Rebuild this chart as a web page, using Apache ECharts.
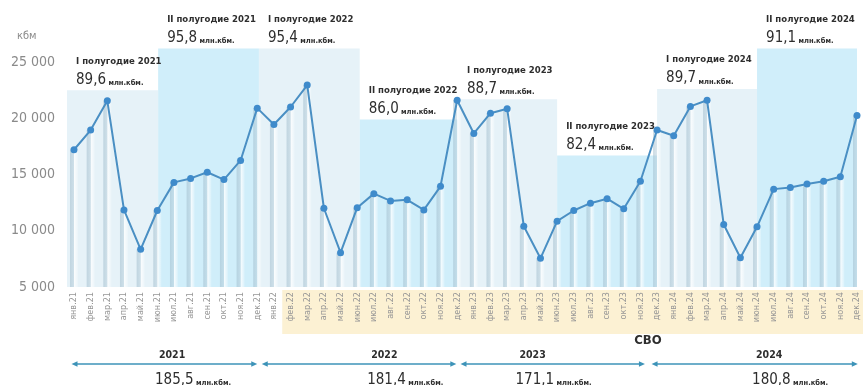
<!DOCTYPE html>
<html>
<head>
<meta charset="utf-8">
<script src="https://cdn.jsdelivr.net/npm/echarts@6/dist/echarts.min.js"></script>
<style>
  html, body { margin: 0; padding: 0; background: #ffffff; }
  #chart { width: 863px; height: 385px; }
</style>
</head>
<body>
<div id="chart"></div>
<script>
// Monthly timber volume, thousand cubic metres (кбм), Jan 2021 – Dec 2024
const monthNames = ['янв', 'фев', 'мар', 'апр', 'май', 'июн', 'июл', 'авг', 'сен', 'окт', 'ноя', 'дек'];
const yearSuffixes = ['21', '22', '23', '24'];
const months = [];
yearSuffixes.forEach(function (y) { monthNames.forEach(function (m) { months.push(m + '.' + y); }); });

const volumes2021 = [17200, 18950, 21550, 11850, 8350, 11800, 14300, 14650, 15200, 14550, 16250, 20900];
const volumes2022 = [19450, 21000, 22950, 12000, 8050, 12050, 13300, 12650, 12750, 11850, 13950, 21600];
const volumes2023 = [18650, 20450, 20850, 10400, 7550, 10850, 11800, 12450, 12850, 11950, 14400, 18950];
const volumes2024 = [18450, 21050, 21600, 10550, 7600, 10350, 13700, 13850, 14150, 14400, 14800, 20250];
const volumes = volumes2021.concat(volumes2022, volumes2023, volumes2024);

// Half-year blocks: caption, total, extent on the month index scale, top edge in кбм
const halfLabels = ['I полугодие 2021', 'II полугодие 2021', 'I полугодие 2022', 'II полугодие 2022',
                    'I полугодие 2023', 'II полугодие 2023', 'I полугодие 2024', 'II полугодие 2024'];
const halfTotals = ['89,6', '95,8', '95,4', '86,0', '88,7', '82,4', '89,7', '91,1'];
const halfStart = [-0.42, 5.05, 11.1, 17.15, 23.05, 29, 35, 41];
const halfEnd = [5.05, 11.1, 17.15, 23.05, 29, 35, 41, 47];
const halfTop = [22500, 26200, 26200, 19900, 21700, 16700, 22600, 26200];

// Calendar-year spans under the axis
const years = ['2021', '2022', '2023', '2024'];
const yearTotals = ['185,5', '181,4', '171,1', '180,8'];
const yearFrom = [-0.15, 11.27, 23.2, 34.67];
const yearTo = [11.0, 22.95, 34.27, 47.05];
const yearLabelAt = [4.86, 17.6, 26.5, 40.7];

// Period since February 2022
const svoLabel = 'СВО';
const svoFrom = 12.5;
const svoLabelAt = 34.45;

const yTicks = [5000, 10000, 15000, 20000, 25000];
const unitLabel = 'кбм';
const totalUnit = 'млн.кбм.';

const FONT = "'Liberation Sans Narrow', 'DejaVu Sans Condensed', 'Roboto', sans-serif";
const INK = '#2e2e2e';
const GREY = '#8a8a8a';
const LINE_BLUE = '#4a8fc3';
const ARROW_BLUE = '#3d93b8';
const bandColors = ['#e6f2f8', '#d0eefa'];

const chart = echarts.init(document.getElementById('chart'), null, { renderer: 'canvas' });

const points = volumes.map(function (v, i) { return [i, v]; });

const halfAreas = halfLabels.map(function (name, i) {
  return [
    {
      name: name,
      xAxis: halfStart[i],
      yAxis: halfTop[i],
      itemStyle: { color: bandColors[i % 2] },
      label: {
        formatter: '{t|' + name + '}\n{v|' + halfTotals[i] + '}{u| ' + totalUnit + '}'
      }
    },
    { xAxis: halfEnd[i], yAxis: 5000 }
  ];
});

function spaced(v) {
  return String(v).replace(/\B(?=(\d{3})+(?!\d))/g, ' ');
}

chart.setOption({
  animation: false,
  backgroundColor: '#ffffff',
  textStyle: { fontFamily: FONT },
  title: {
    text: unitLabel,
    left: 12,
    top: 26,
    textStyle: { fontFamily: FONT, fontSize: 11, fontWeight: 'normal', color: GREY }
  },
  grid: { left: 67, right: 6, top: 48.5, bottom: 98, containLabel: false },
  xAxis: {
    type: 'value',
    min: -0.42,
    max: 47,
    axisLine: { show: false },
    axisTick: { show: false },
    splitLine: { show: false },
    axisLabel: {
      customValues: months.map(function (m, i) { return i; }),
      formatter: function (v) { return months[v]; },
      rotate: 90,
      margin: 5,
      fontSize: 9,
      color: '#969696',
      fontFamily: FONT
    }
  },
  yAxis: {
    type: 'value',
    min: 5000,
    max: 26200,
    axisLine: { show: false },
    axisTick: { show: false },
    splitLine: { show: false },
    axisLabel: {
      customValues: yTicks,
      formatter: spaced,
      margin: 12,
      fontSize: 14,
      color: GREY,
      fontFamily: FONT
    }
  },
  series: [
    {
      // half-year blocks with their captions
      type: 'line',
      data: points,
      showSymbol: false,
      lineStyle: { opacity: 0 },
      clip: false,
      silent: true,
      z: 1,
      markArea: {
        silent: true,
        z: 1,
        label: {
          show: true,
          position: [9, -36],
          fontFamily: FONT,
          rich: {
            t: { fontFamily: FONT, fontSize: 9.5, fontWeight: 'bold', color: INK, lineHeight: 14 },
            v: { fontFamily: FONT, fontSize: 15, color: INK, lineHeight: 19, verticalAlign: 'bottom' },
            u: { fontFamily: FONT, fontSize: 7.5, fontWeight: 'bold', color: INK, lineHeight: 14, verticalAlign: 'bottom' }
          }
        },
        data: halfAreas
      }
    },
    {
      // thin columns under each month
      type: 'bar',
      data: points,
      barWidth: 8,
      silent: true,
      z: 2,
      itemStyle: {
        color: {
          type: 'linear', x: 0, y: 0, x2: 1, y2: 0,
          colorStops: [
            { offset: 0, color: 'rgba(160,188,204,0.55)' },
            { offset: 0.45, color: 'rgba(180,204,217,0.5)' },
            { offset: 0.55, color: 'rgba(255,255,255,0.8)' },
            { offset: 1, color: 'rgba(255,255,255,0.2)' }
          ]
        }
      }
    },
    {
      type: 'line',
      data: points,
      symbol: 'circle',
      symbolSize: 7,
      z: 3,
      lineStyle: { color: LINE_BLUE, width: 2 },
      itemStyle: { color: '#3f8bcb' }
    }
  ]
});

// Annotations below the axis, placed through the axis scales
const W = chart.getWidth();
const toX = function (i) { return chart.convertToPixel({ xAxisIndex: 0 }, i); };
const baseY = chart.convertToPixel({ yAxisIndex: 0 }, 5000);
const arrowY = baseY + 77;
const graphics = [];

const svoX = toX(svoFrom);
graphics.push({
  type: 'rect', z: -1, silent: true,
  shape: { x: svoX, y: baseY + 3, width: W - svoX, height: 44 },
  style: { fill: '#fcf1d3' }
});
graphics.push({
  type: 'text', silent: true,
  style: {
    text: svoLabel, x: toX(svoLabelAt), y: baseY + 54, align: 'center', verticalAlign: 'middle',
    font: 'bold 13px ' + FONT, fill: INK
  }
});

years.forEach(function (y, i) {
  const x0 = toX(yearFrom[i]);
  const x1 = toX(yearTo[i]);
  graphics.push({
    type: 'line', silent: true,
    shape: { x1: x0 + 3, y1: arrowY, x2: x1 - 3, y2: arrowY },
    style: { stroke: ARROW_BLUE, lineWidth: 1.4 }
  });
  graphics.push({
    type: 'polygon', silent: true,
    shape: { points: [[x0, arrowY], [x0 + 6, arrowY - 2.8], [x0 + 6, arrowY + 2.8]] },
    style: { fill: ARROW_BLUE }
  });
  graphics.push({
    type: 'polygon', silent: true,
    shape: { points: [[x1, arrowY], [x1 - 6, arrowY - 2.8], [x1 - 6, arrowY + 2.8]] },
    style: { fill: ARROW_BLUE }
  });
  const lx = toX(yearLabelAt[i]);
  graphics.push({
    type: 'text', silent: true,
    style: {
      text: y, x: lx + 4, y: arrowY - 9, align: 'left', verticalAlign: 'middle',
      font: 'bold 10.5px ' + FONT, fill: INK
    }
  });
  graphics.push({
    type: 'text', silent: true,
    style: {
      text: '{v|' + yearTotals[i] + '}{u| ' + totalUnit + '}',
      x: lx, y: arrowY + 14, align: 'left', verticalAlign: 'middle',
      rich: {
        v: { fontFamily: FONT, fontSize: 15, fill: INK, lineHeight: 19, verticalAlign: 'bottom' },
        u: { fontFamily: FONT, fontSize: 7.5, fontWeight: 'bold', fill: INK, lineHeight: 14, verticalAlign: 'bottom' }
      }
    }
  });
});

chart.setOption({ graphic: { elements: graphics } });
</script>
</body>
</html>
